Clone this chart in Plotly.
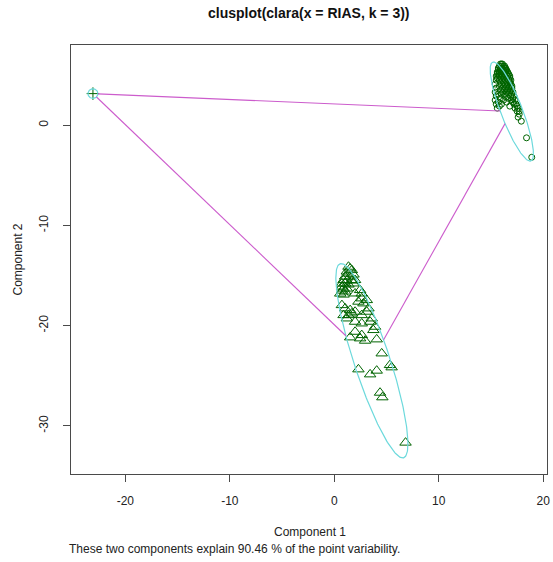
import numpy as np
import plotly.graph_objects as go

# ---------------- data ----------------
# cluster 1 : circles (upper right)
c1_x = [15.9, 16.0, 16.1,
        15.8, 16.0, 16.2, 16.3,
        15.7, 15.9, 16.1, 16.3, 16.4,
        15.7, 15.9, 16.0, 16.2, 16.4, 16.5,
        15.6, 15.8, 16.0, 16.2, 16.4, 16.6,
        15.6, 15.8, 16.0, 16.3, 16.5, 16.7,
        15.5, 15.8, 16.1, 16.3, 16.6, 16.8,
        15.6, 15.9, 16.2, 16.5, 16.8,
        15.5, 15.8, 16.1, 16.4, 16.7, 16.9,
        15.9, 16.2, 16.5, 16.8,
        15.4, 16.0, 16.3, 16.6, 16.9,
        15.8, 16.2, 16.5, 16.8, 17.0,
        15.5, 16.1, 16.4, 16.7, 17.0,
        15.9, 16.3, 16.6, 16.9,
        15.4, 16.1, 16.5, 16.8, 17.1,
        15.7, 16.0, 16.4, 16.7, 17.0,
        15.5, 16.3, 16.9, 17.2,
        15.9, 16.6, 17.1,
        15.4, 16.2, 16.9, 17.3,
        15.7, 16.5, 17.1,
        15.5, 16.0, 17.2, 17.4,
        15.8, 16.8, 17.5,
        15.6, 17.3, 17.6,
        17.5, 17.7,
        17.7, 17.6, 17.9, 18.4, 18.9]
c1_y = [6.1, 6.1, 6.1,
        5.9, 5.9, 5.9, 5.9,
        5.7, 5.7, 5.7, 5.7, 5.7,
        5.5, 5.5, 5.5, 5.5, 5.5, 5.5,
        5.3, 5.3, 5.3, 5.3, 5.3, 5.3,
        5.1, 5.1, 5.1, 5.1, 5.1, 5.1,
        4.9, 4.9, 4.9, 4.9, 4.9, 4.9,
        4.7, 4.7, 4.7, 4.7, 4.7,
        4.5, 4.5, 4.5, 4.5, 4.5, 4.5,
        4.3, 4.3, 4.3, 4.3,
        4.1, 4.1, 4.1, 4.1, 4.1,
        3.9, 3.9, 3.9, 3.9, 3.9,
        3.7, 3.7, 3.7, 3.7, 3.7,
        3.5, 3.5, 3.5, 3.5,
        3.3, 3.3, 3.3, 3.3, 3.3,
        3.1, 3.1, 3.1, 3.1, 3.1,
        2.9, 2.9, 2.9, 2.9,
        2.7, 2.7, 2.7,
        2.5, 2.5, 2.5, 2.5,
        2.3, 2.3, 2.3,
        2.1, 2.1, 2.1, 2.1,
        1.9, 1.9, 1.9,
        1.7, 1.7, 1.7,
        1.4, 1.4,
        1.1, 0.8, 0.4, -1.26, -3.2]

# cluster 2 : triangles (bottom)
c2_x = [1.36, 1.52, 1.68, 1.20, 1.36, 1.84, 1.04, 1.52, 0.89, 1.20, 1.68,
        0.73, 1.04, 1.36, 0.73, 0.89, 1.20, 0.73, 1.04, 0.57, 0.89,
        1.99, 1.84, 2.47, 2.63, 1.99, 2.63, 3.11, 2.31, 2.79, 0.73, 1.04,
        1.52, 3.27, 3.11, 1.99, 1.68, 2.63, 1.36, 0.89, 3.58, 3.43, 1.20,
        1.99, 2.63, 3.90, 3.74, 1.99, 2.63, 1.52, 2.47, 2.95, 4.06, 4.54,
        5.33, 5.49, 2.31, 3.43, 4.06, 4.38, 4.60, 6.82]
c2_y = [-14.12, -14.30, -14.46, -14.60, -14.80, -14.90, -15.10, -15.10, -15.45, -15.50, -15.50,
        -15.80, -15.80, -15.90, -16.10, -16.30, -16.30, -16.50, -16.60, -16.80, -16.90,
        -15.45, -15.79, -16.45, -16.79, -16.79, -17.28, -17.45, -17.61, -17.78, -17.95, -18.28,
        -18.45, -18.28, -18.61, -18.61, -18.78, -18.95, -18.95, -18.95, -19.28, -19.61, -19.28,
        -19.61, -19.78, -20.11, -20.44, -20.61, -20.94, -21.17, -21.27, -21.50, -21.37, -22.77,
        -23.93, -24.16, -24.36, -24.86, -24.49, -26.69, -27.15, -31.67]

# cluster 3 : single point (plus)
c3_x = [-23.1]
c3_y = [3.15]

# spanning ellipses: centre, semi-axes, angle (degrees)
ell_cx = [16.99, 3.60, -23.1]
ell_cy = [1.36, -23.50, 3.15]
ell_a = [5.26, 10.15, 0.48]
ell_b = [1.04, 1.72, 0.48]
ell_ang = [110.3, 107.4, 0.0]

x_ticks = [-20, -10, 0, 10, 20]
x_tick_labels = ["-20", "-10", "0", "10", "20"]
y_ticks = [-30, -20, -10, 0]
y_tick_labels = ["-30", "-20", "-10", "0"]
x_range = [-25.2, 20.36]
y_range = [-34.8, 8.0]

title_text = "clusplot(clara(x = RIAS, k = 3))"
xlab = "Component 1"
ylab = "Component 2"
sub_text = "These two components explain 90.46 % of the point variability."

# ---------------- styles ----------------
PT_COL = "#006400"
ELL_COL = "#6cd9dc"
LINE_COL = "#cc5ccc"
AX_COL = "#4a4a4a"
FONT = "Liberation Sans, Arial, sans-serif"

fig = go.Figure()

fig.add_trace(go.Scatter(x=c1_x, y=c1_y, mode="markers",
                         marker=dict(symbol="circle-open", size=6, color=PT_COL,
                                     line=dict(width=1, color=PT_COL)),
                         hoverinfo="skip"))
fig.add_trace(go.Scatter(x=c2_x, y=c2_y, mode="markers",
                         marker=dict(symbol="triangle-up-open", size=10, color=PT_COL,
                                     line=dict(width=1, color=PT_COL)),
                         hoverinfo="skip"))
fig.add_trace(go.Scatter(x=c3_x, y=c3_y, mode="markers",
                         marker=dict(symbol="cross-thin-open", size=9, color=PT_COL,
                                     line=dict(width=1, color=PT_COL)),
                         hoverinfo="skip"))

# ellipses
t = np.linspace(0, 2 * np.pi, 241)
for cx, cy, a, b, ang in zip(ell_cx, ell_cy, ell_a, ell_b, ell_ang):
    th = np.deg2rad(ang)
    ex = cx + a * np.cos(t) * np.cos(th) - b * np.sin(t) * np.sin(th)
    ey = cy + a * np.cos(t) * np.sin(th) + b * np.sin(t) * np.cos(th)
    fig.add_trace(go.Scatter(x=ex, y=ey, mode="lines",
                             line=dict(color=ELL_COL, width=1.2), hoverinfo="skip"))


def boundary_scale(i, d):
    th = np.deg2rad(ell_ang[i])
    u = d[0] * np.cos(th) + d[1] * np.sin(th)
    v = -d[0] * np.sin(th) + d[1] * np.cos(th)
    return 1.0 / np.sqrt(u ** 2 / ell_a[i] ** 2 + v ** 2 / ell_b[i] ** 2)


n = len(ell_cx)
for i in range(n):
    for j in range(i + 1, n):
        ci = np.array([ell_cx[i], ell_cy[i]])
        cj = np.array([ell_cx[j], ell_cy[j]])
        d = cj - ci
        p1 = ci + boundary_scale(i, d) * d
        p2 = cj - boundary_scale(j, d) * d
        fig.add_trace(go.Scatter(x=[p1[0], p2[0]], y=[p1[1], p2[1]], mode="lines",
                                 line=dict(color=LINE_COL, width=1.1), hoverinfo="skip"))

axis_common = dict(showgrid=False, zeroline=False, showline=True, mirror=True,
                   linecolor=AX_COL, linewidth=1, ticks="outside", ticklen=7,
                   tickwidth=1, tickcolor=AX_COL, ticklabeloverflow="allow",
                   tickfont=dict(family=FONT, size=12, color="#222"))

fig.update_layout(
    width=553, height=562,
    margin=dict(l=71, r=3, t=45, b=88, pad=0),
    paper_bgcolor="white", plot_bgcolor="white",
    showlegend=False,
    xaxis=dict(range=x_range, tickvals=x_ticks, ticktext=x_tick_labels,
               ticklabelstandoff=9, **axis_common),
    yaxis=dict(range=y_range, tickvals=y_ticks, ticktext=y_tick_labels, tickangle=-90,
               ticklabelstandoff=10, **axis_common),
    annotations=[
        dict(text="<b>" + title_text + "</b>", xref="paper", yref="paper", x=0.5, y=1,
             yshift=32, xanchor="center", yanchor="middle", showarrow=False,
             font=dict(family=FONT, size=14, color="#111")),
        dict(text=xlab, xref="paper", yref="paper", x=0, y=0, xshift=239, yshift=-58,
             xanchor="center", yanchor="middle", showarrow=False,
             font=dict(family=FONT, size=12, color="#222")),
        dict(text=sub_text, xref="paper", yref="paper", x=0, y=0, xshift=-4, yshift=-75,
             xanchor="left", yanchor="middle", showarrow=False,
             font=dict(family=FONT, size=12, color="#222")),
        dict(text=ylab, xref="paper", yref="paper", x=0, y=0.5, xshift=-54,
             xanchor="center", yanchor="middle", textangle=-90, showarrow=False,
             font=dict(family=FONT, size=12, color="#222")),
    ],
)

fig.write_html("out.html", config={"displayModeBar": False},
               post_script="document.body.style.margin='0';document.body.style.overflow='hidden';")
